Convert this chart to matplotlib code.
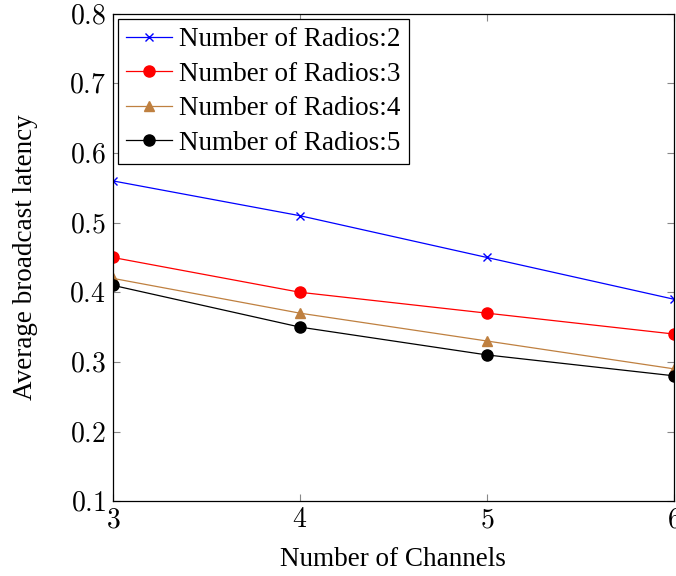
import matplotlib.pyplot as plt
from matplotlib.ticker import FuncFormatter

plt.rcParams['font.family'] = ['Liberation Serif', 'DejaVu Serif']
plt.rcParams['mathtext.fontset'] = 'cm'

# Data
channels = [3, 4, 5, 6]
radios2 = [0.56, 0.51, 0.45, 0.39]
radios3 = [0.45, 0.40, 0.37, 0.34]
radios4 = [0.42, 0.37, 0.33, 0.29]
radios5 = [0.41, 0.35, 0.31, 0.28]
y_ticks = [0.1, 0.2, 0.3, 0.4, 0.5, 0.6, 0.7, 0.8]

fig = plt.figure(figsize=(6.76, 5.76), dpi=100)
ax = fig.add_axes([0.167, 0.130, 0.830, 0.846])

ax.plot(channels, radios2, color='blue', marker='x', markersize=6, lw=0.9,
        label='Number of Radios:2')
ax.plot(channels, radios3, color='red', marker='o', markersize=8, lw=0.9,
        label='Number of Radios:3')
ax.plot(channels, radios4, color='#bf8040', marker='^', markersize=7, lw=0.9,
        label='Number of Radios:4')
ax.plot(channels, radios5, color='black', marker='o', markersize=8, lw=0.9,
        label='Number of Radios:5')

ax.set_xlim(3, 6)
ax.set_ylim(0.1, 0.8)
ax.set_xticks(channels)
ax.set_yticks(y_ticks)
ax.xaxis.set_major_formatter(FuncFormatter(lambda v, p: r'$%d$' % v))
ax.yaxis.set_major_formatter(FuncFormatter(lambda v, p: r'$%.1f$' % v))
ax.tick_params(direction='in', length=5, color='#888888', labelsize=20,
               top=True, right=True, pad=5)
for s in ax.spines.values():
    s.set_linewidth(0.9)

ax.set_xlabel('Number of Channels', fontsize=19.5, labelpad=10)
ax.set_ylabel('Average broadcast latency', fontsize=19.5, labelpad=22)

leg = ax.legend(loc='upper left', fontsize=19.5, fancybox=False, framealpha=1,
                edgecolor='black', borderaxespad=0.2, handlelength=1.7,
                labelspacing=0.35, borderpad=0.3, handletextpad=0.25)
leg.get_frame().set_linewidth(0.9)

fig.savefig('out.png', dpi=100)
